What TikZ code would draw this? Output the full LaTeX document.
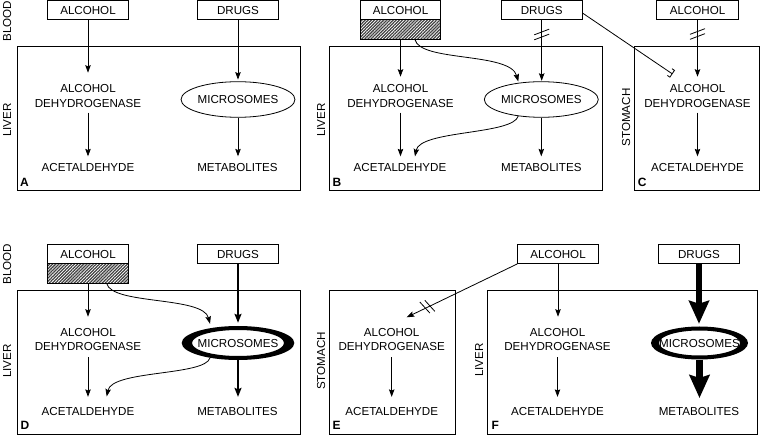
\documentclass[tikz,border=0pt]{standalone}
\usepackage{fontspec}
\setmainfont{Liberation Sans}
\usetikzlibrary{arrows.meta,patterns.meta,calc,shapes.geometric}
\tikzset{
  txt/.style={font=\fontsize{11.6}{14.4}\selectfont, inner sep=0pt, text height=8.3pt, text depth=0pt},
  two/.style={font=\fontsize{11.6}{14.4}\selectfont, inner sep=0pt, align=center},
  box/.style={txt, draw, line width=0.9pt, minimum width=80.6pt, minimum height=19pt},
  hatchbox/.style={draw, line width=0.9pt, minimum width=80.6pt, minimum height=19.5pt, inner sep=0pt,
     pattern={Lines[angle=45,distance=2.2pt,line width=1.25pt]}, pattern color=black!75},
  region/.style={draw, line width=0.9pt},
  side/.style={txt, rotate=90},
  tag/.style={font=\fontsize{12}{12}\bfseries\selectfont, inner sep=0pt, anchor=base west},
  thinell/.style={txt, ellipse, draw, line width=0.8pt, minimum width=112.6pt, minimum height=35.6pt},
  arr/.style={line width=0.8pt, -{Stealth[length=7.5pt,width=5.5pt,inset=1.2pt]}},
  arrmid/.style={line width=1.6pt, -{Stealth[length=9pt,width=7pt,inset=1.5pt]}},
  arrbig/.style={line width=6.5pt, -{Stealth[length=23pt,width=20pt,inset=3pt]}},
  inhib/.style={line width=0.8pt, -{Bracket[width=9pt,length=3pt]}},
  brkline/.style={line width=0.8pt},
  brk/.pic={\draw[brkline] (-7.5,0.35) -- (7.5,-5.35); \draw[brkline] (-7.5,5.35) -- (7.5,-0.35);}
}
\begin{document}
\begin{tikzpicture}[x=1pt,y=-1pt]
\useasboundingbox (0,0) rectangle (760,435);

% ---------------- A
\node[box] (alcA) at (88,10) {ALCOHOL};
\node[box] (drgA) at (238,10) {DRUGS};
\draw[region] (17.3,46) rectangle (300,190);
\node[side] (bloodA) at (7,21) {BLOOD};
\node[side] (liverA) at (7,120) {LIVER};
\node[two] (adhA) at (88,96.2) {ALCOHOL\\DEHYDROGENASE};
\node[txt] (acA) at (88,167.7) {ACETALDEHYDE};
\node[thinell] (msA) at (238,99.5) {MICROSOMES};
\node[txt] (metA) at (237.5,167.7) {METABOLITES};
\node[tag] (tagA) at (20,186.7) {A};
\draw[arr, shorten >=12pt] (alcA.south) -- (alcA.south |- adhA.north);
\draw[arr, shorten <=5pt, shorten >=7pt] (adhA.south) -- (adhA.south |- acA.north);
\draw[arr, shorten >=1.7pt] (drgA.south) -- (drgA.south |- msA.north);
\draw[arr, shorten >=7pt] (msA.south) -- (msA.south |- metA.north);

% ---------------- B
\node[box] (alcB) at (400.5,10) {ALCOHOL};
\node[hatchbox] (hatB) at (400.5,29.25) {};
\node[box] (drgB) at (541.7,10) {DRUGS};
\draw[region] (329.3,46) rectangle (602.7,190);
\node[side] (liverB) at (321,120) {LIVER};
\node[two] (adhB) at (400.5,96.2) {ALCOHOL\\DEHYDROGENASE};
\node[txt] (acB) at (400,167.7) {ACETALDEHYDE};
\node[thinell] (msB) at (541.3,99.5) {MICROSOMES};
\node[txt] (metB) at (541.3,167.7) {METABOLITES};
\node[tag] (tagB) at (332.3,186.7) {B};
\draw[arr, shorten >=8pt] (hatB.south) -- (hatB.south |- adhB.north);
\draw[arr, shorten <=5pt, shorten >=7pt] (adhB.south) -- (adhB.south |- acB.north);
\draw[arr, shorten >=0.5pt] (drgB.south) -- (drgB.south |- msB.north);
\pic at (541.7,34.5) {brk};
\draw[arr, shorten >=7pt] (msB.south) -- (msB.south |- metB.north);
\draw[arr] ($(hatB.south)+(14.5,0)$) .. controls (420,62) and (510,52) .. ($(msB.center)+(-23,-18)$);
\draw[arr] ($(msB.center)+(-23,16.5)$) .. controls (513,135) and (420,130) .. ($(acB.north)+(15,-7)$);

% ---------------- C
\coordinate (inhC) at (672.5,74);
\node[box, minimum width=82pt] (alcC) at (697.5,10) {ALCOHOL};
\draw[region] (634.3,46) rectangle (759.3,190);
\node[side] (stomC) at (626,117.5) {STOMACH};
\node[two] (adhC) at (697.5,96.2) {ALCOHOL\\DEHYDROGENASE};
\node[txt] (acC) at (697.5,167.7) {ACETALDEHYDE};
\node[tag] (tagC) at (637.7,186.7) {C};
\draw[arr, shorten >=8pt] (alcC.south) -- (alcC.south |- adhC.north);
\pic at (697.5,34) {brk};
\draw[arr, shorten <=5pt, shorten >=7pt] (adhC.south) -- (adhC.south |- acC.north);
\draw[inhib] ($(drgB.east)+(0,3)$) -- (inhC);

% ---------------- D
\node[box] (alcD) at (88,254) {ALCOHOL};
\node[hatchbox] (hatD) at (88,273.25) {};
\node[box] (drgD) at (238,254) {DRUGS};
\draw[region] (17.3,290.7) rectangle (300,434);
\node[side] (bloodD) at (7,264) {BLOOD};
\node[side] (liverD) at (7,361) {LIVER};
\node[two] (adhD) at (88,339.5) {ALCOHOL\\DEHYDROGENASE};
\node[txt] (acD) at (88,411.7) {ACETALDEHYDE};
\fill[even odd rule] (238,343) ellipse [x radius=56.3, y radius=17] (238,343) ellipse [x radius=46, y radius=13];
\node[txt, minimum width=112.6pt, minimum height=34pt] (msD) at (238,343) {MICROSOMES};
\node[txt] (metD) at (237.5,411.7) {METABOLITES};
\node[tag] (tagD) at (20.5,429.3) {D};
\draw[arr, shorten >=11.3pt] (hatD.south) -- (hatD.south |- adhD.north);
\draw[arr, shorten <=6pt, shorten >=10.5pt] (adhD.south) -- (adhD.south |- acD.north);
\draw[arrmid, shorten >=3pt] (drgD.south) -- (drgD.south |- msD.north);
\draw[arrmid, shorten >=10.5pt] (msD.south) -- (msD.south |- metD.north);
\draw[arr] ($(hatD.south)+(18.7,0)$) .. controls (111.7,305) and (203,296) .. ($(msD.north)+(-28,-2)$);
\draw[arr] ($(msD.south)+(-28,-2.3)$) .. controls (205,376) and (112,370) .. ($(acD.north)+(18.7,-10.9)$);

% ---------------- F
\node[box] (alcF) at (558,254) {ALCOHOL};
\node[box] (drgF) at (699,254) {DRUGS};
\draw[region] (487.3,290.7) rectangle (757.3,434);
\node[side] (liverF) at (479,360) {LIVER};
\node[two] (adhF) at (557.5,339.5) {ALCOHOL\\DEHYDROGENASE};
\node[txt] (acF) at (557.5,411.7) {ACETALDEHYDE};
\fill[even odd rule] (699.5,343) ellipse [x radius=48.5, y radius=16.5] (699.5,343) ellipse [x radius=40.5, y radius=12.5];
\node[txt, minimum width=97pt, minimum height=33pt] (msF) at (699.5,343) {MICROSOMES};
\node[txt] (metF) at (699,411.7) {METABOLITES};
\node[tag] (tagF) at (491.5,429.3) {F};
\draw[arr, shorten >=11.3pt] (alcF.south) -- (alcF.south |- adhF.north);
\draw[arr, shorten <=6pt, shorten >=10.5pt] (adhF.south) -- (adhF.south |- acF.north);
\draw[arrbig, shorten >=2.5pt] (drgF.south) -- (drgF.south |- msF.north);
\draw[arrbig, shorten >=9.3pt] (msF.south) -- (msF.south |- metF.north);

% ---------------- E
\draw[region] (329.3,290.7) rectangle (455.7,434);
\node[side] (stomE) at (321,361) {STOMACH};
\node[two] (adhE) at (391.7,339.5) {ALCOHOL\\DEHYDROGENASE};
\node[txt] (acE) at (391.7,411.7) {ACETALDEHYDE};
\node[tag] (tagE) at (332.5,429.3) {E};
\coordinate (inE) at (406.7,317.3);
\draw[arr] (alcF.south west) -- (inE);
\draw[brkline] (419.8,302) -- (429.8,313);
\draw[brkline] (424.8,300.3) -- (434.8,311.3);
\draw[arr, shorten <=6pt, shorten >=10.5pt] (adhE.south) -- (adhE.south |- acE.north);
\end{tikzpicture}
\end{document}
